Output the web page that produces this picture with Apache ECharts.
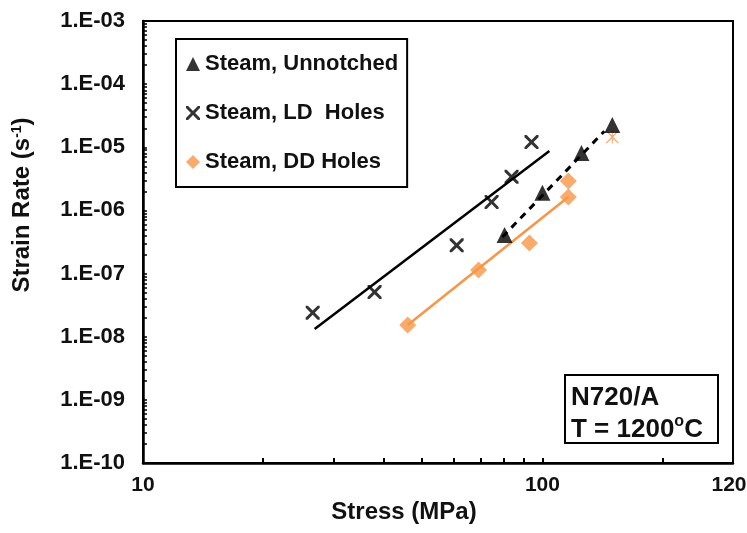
<!DOCTYPE html>
<html>
<head>
<meta charset="utf-8">
<script src="https://cdn.jsdelivr.net/npm/echarts@6/dist/echarts.min.js"></script>
<style>
    html, body { margin: 0; padding: 0; background: #fff; }
    #chart { width: 747px; height: 533px; }
</style>
</head>
<body>
<div id="chart"></div>
<script>
// data
const unnotchedStress = [80.4, 100, 125.2, 149.6];
const unnotchedRate = [4.1e-7, 1.9e-6, 8.1e-6, 2.25e-5];
const ldStress = [26.6, 38.0, 61.0, 74.6, 83.7, 93.9];
const ldRate = [2.4e-8, 5.1e-8, 2.8e-7, 1.36e-6, 3.4e-6, 1.21e-5];
const ddStress = [46.0, 69.2, 92.8, 116.1, 116.1];
const ddRate = [1.53e-8, 1.14e-7, 3.05e-7, 1.63e-6, 2.92e-6];
const ddExtraStress = [149.6];
const ddExtraRate = [1.46e-5];

// trend lines
const ldFitStress = [26.9, 104.1];
const ldFitRate = [1.32e-8, 8.7e-6];
const ddFitStress = [46.0, 116.1];
const ddFitRate = [1.53e-8, 1.63e-6];
const unFitStress = [79.4, 142.9];
const unFitRate = [3.8e-7, 1.8e-5];

// ticks
const xTickValues = [10, 100, 300];
const xTickLabels = ['10', '100', '120'];
const xMinorTicks = [20, 30, 40, 50, 60, 70, 80, 90, 100, 200];
const yTickValues = [1e-10, 1e-9, 1e-8, 1e-7, 1e-6, 1e-5, 1e-4, 1e-3];
const yTickLabels = ['1.E-10', '1.E-09', '1.E-08', '1.E-07', '1.E-06', '1.E-05', '1.E-04', '1.E-03'];
const yMinorTicks = [];
yTickValues.forEach(function (d) {
    for (let k = 1; k <= 9; k++) {
        if (d * k <= 1e-3) yMinorTicks.push(d * k);
    }
});

const ORANGE = '#F79646';
const FONT = 'Liberation Sans, Arial, sans-serif';
const crossPath = 'path://M0,0L3,0L10,7L17,0L20,0L20,3L13,10L20,17L20,20L17,20L10,13L3,20L0,20L0,17L7,10L0,3Z';
const starPath = 'path://M0,1L1.5,0L10,8.5L18.5,0L20,1L11.5,10L20,19L18.5,20L10,11.5L1.5,20L0,19L8.5,10ZM9.2,0L10.8,0L10.8,20L9.2,20Z';

function zip(xs, ys) {
    return xs.map(function (x, i) { return [x, ys[i]]; });
}
function nearestIndex(v, values) {
    let best = 0;
    values.forEach(function (t, i) {
        if (Math.abs(Math.log10(t) - Math.log10(v)) < Math.abs(Math.log10(values[best]) - Math.log10(v))) best = i;
    });
    return best;
}

var myChart = echarts.init(document.getElementById('chart'));
var option = {
    animation: false,
    backgroundColor: '#fff',
    textStyle: { fontFamily: FONT },
    grid: {
        left: 143, top: 21, right: 14, bottom: 70,
        show: true, borderColor: '#000', borderWidth: 2,
        outerBoundsMode: 'none'
    },
    legend: {
        left: 176, top: 39,
        orient: 'vertical',
        backgroundColor: '#fff',
        borderColor: '#000', borderWidth: 2, borderRadius: 0,
        padding: [13, 9, 13, 10],
        itemGap: 25,
        itemWidth: 14, itemHeight: 14,
        textStyle: { fontFamily: FONT, fontWeight: 'bold', fontSize: 22, color: '#111', lineHeight: 24, padding: [0, 0, 0, 0] },
        data: [
            { name: 'Steam, Unnotched', icon: 'triangle' },
            { name: 'Steam, LD  Holes', icon: crossPath },
            { name: 'Steam, DD Holes', icon: 'diamond' }
        ]
    },
    xAxis: {
        type: 'log', logBase: 10, min: 10, max: 300,
        axisLine: { lineStyle: { color: '#000', width: 2.5 } },
        axisTick: { inside: true, length: 5, lineStyle: { color: '#000', width: 2 }, customValues: xMinorTicks },
        axisLabel: {
            customValues: xTickValues, margin: 12,
            fontFamily: FONT, fontWeight: 'bold', fontSize: 21, color: '#111',
            formatter: function (v) {
                const i = nearestIndex(v, xTickValues);
                return i === xTickValues.length - 1 ? '{r|' + xTickLabels[i] + '}' : xTickLabels[i];
            },
            rich: { r: { fontFamily: FONT, fontWeight: 'bold', fontSize: 21, color: '#111', padding: [0, 8, 0, 0] } }
        },
        splitLine: { show: false }
    },
    yAxis: {
        type: 'log', logBase: 10, min: 1e-10, max: 1e-3,
        axisLine: { lineStyle: { color: '#000', width: 2.5 } },
        axisTick: { inside: true, length: 4, lineStyle: { color: '#000', width: 1.5 }, customValues: yMinorTicks },
        axisLabel: {
            customValues: yTickValues, margin: 18,
            fontFamily: FONT, fontWeight: 'bold', fontSize: 22, color: '#111',
            formatter: function (v) { return yTickLabels[nearestIndex(v, yTickValues)]; }
        },
        splitLine: { show: false }
    },
    graphic: [
        {
            type: 'text', x: 22, y: 205, rotation: Math.PI / 2,
            style: {
                text: 'Strain Rate (s{sup|-1})',
                fontFamily: FONT, fontWeight: 'bold', fontSize: 24, fill: '#111',
                align: 'center', verticalAlign: 'middle',
                rich: { sup: { fontFamily: FONT, fontWeight: 'bold', fontSize: 14, verticalAlign: 'top', fill: '#111' } }
            }
        },
        {
            type: 'text', x: 404, y: 512,
            style: {
                text: 'Stress (MPa)',
                fontFamily: FONT, fontWeight: 'bold', fontSize: 24, fill: '#111',
                align: 'center', verticalAlign: 'middle'
            }
        },
        {
            type: 'rect', shape: { x: 565, y: 375, width: 153, height: 68 },
            style: { fill: '#fff', stroke: '#000', lineWidth: 2 }
        },
        {
            type: 'text', x: 571, y: 414,
            style: {
                text: 'N720/A\nT = 1200{sup|o}C',
                fontFamily: FONT, fontWeight: 'bold', fontSize: 26, fill: '#111',
                lineHeight: 32, verticalAlign: 'middle',
                rich: { sup: { fontFamily: FONT, fontWeight: 'bold', fontSize: 16, verticalAlign: 'top', fill: '#111' } }
            }
        }
    ],
    series: [
        {
            name: 'ld fit', type: 'line', data: zip(ldFitStress, ldFitRate),
            showSymbol: false, lineStyle: { color: '#000', width: 2.5 }, z: 1, silent: true
        },
        {
            name: 'dd fit', type: 'line', data: zip(ddFitStress, ddFitRate),
            showSymbol: false, lineStyle: { color: ORANGE, width: 2.5 }, z: 1, silent: true
        },
        {
            name: 'unnotched fit', type: 'line', data: zip(unFitStress, unFitRate),
            showSymbol: false, lineStyle: { color: '#000', width: 3, type: [7, 6] }, z: 1, silent: true
        },
        {
            name: 'Steam, Unnotched', type: 'scatter', data: zip(unnotchedStress, unnotchedRate),
            symbol: 'triangle', symbolSize: 16, itemStyle: { color: '#000' }, z: 3
        },
        {
            name: 'Steam, LD  Holes', type: 'scatter', data: zip(ldStress, ldRate),
            symbol: crossPath, symbolSize: 14, itemStyle: { color: '#000' }, z: 3
        },
        {
            name: 'Steam, DD Holes', type: 'scatter', data: zip(ddStress, ddRate),
            symbol: 'diamond', symbolSize: 17, itemStyle: { color: ORANGE }, z: 3
        },
        {
            name: 'dd extra', type: 'scatter', data: zip(ddExtraStress, ddExtraRate),
            symbol: starPath, symbolSize: 13, itemStyle: { color: ORANGE }, z: 2
        }
    ]
};
myChart.setOption(option);
window.addEventListener('resize', () => {
    myChart.resize()
})
</script>
</body>
</html>
